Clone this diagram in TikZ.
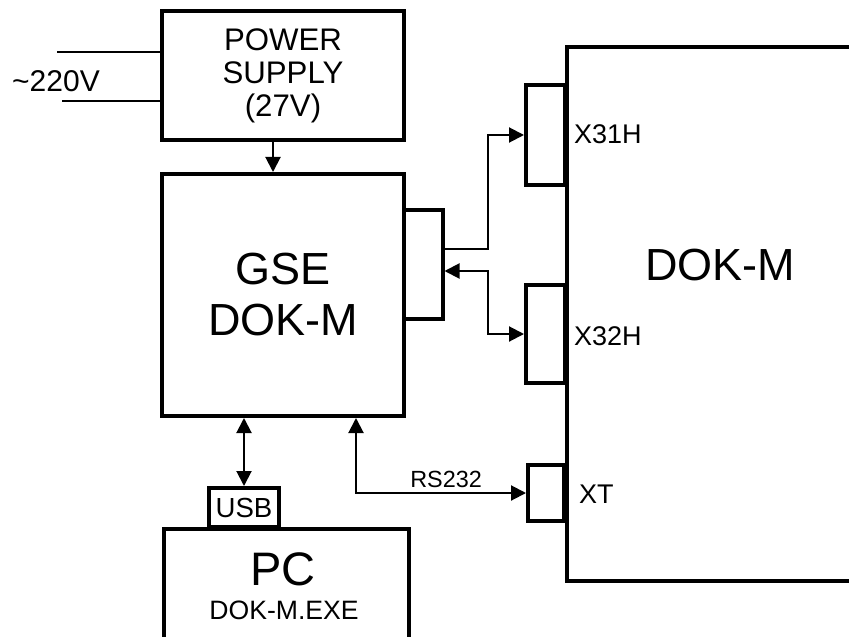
\documentclass[tikz,border=0pt]{standalone}
\usepackage{fontspec}
\setmainfont{Liberation Sans}
\usetikzlibrary{arrows.meta}
\tikzset{
  box/.style={draw, line width=2pt, inner sep=0pt},
  port/.style={box, minimum width=19.5pt},
  portname/.style={anchor=west, inner sep=0pt, font=\fontsize{13.5}{16}\selectfont},
}
\begin{document}
\begin{tikzpicture}[x=0.5pt, y=-0.5pt, line width=1pt, >={Triangle[length=7.5pt,width=7.5pt]}]
  \useasboundingbox (0,0) rectangle (849,636);
  \clip (0,0) rectangle (849,636);
  \node[box, minimum width=121pt, minimum height=64.5pt, align=center, font=\fontsize{15.6}{16.5}\selectfont] (psu) at (283,75.5) {POWER\\SUPPLY\\(27V)};
  \node[box, minimum width=121pt, minimum height=121pt, align=center, font=\fontsize{22.5}{25.5}\selectfont] (gse) at (283,295) {GSE\\DOK-M};
  \node[port, minimum height=54.5pt] (gseport) at (423,264.5) {};
  \node[box, anchor=north west, minimum width=122.5pt, minimum height=80pt] (pc) at (162,527) {};
  \node[font=\fontsize{23.5}{28}\selectfont] (pcname) at (283,569) {PC};
  \node[font=\fontsize{13.3}{16}\selectfont] (pcexe) at (284,610) {DOK-M.EXE};
  \node[box, minimum width=35pt, minimum height=19.5pt, font=\fontsize{13.8}{16}\selectfont] (usb) at (244,507.5) {USB};
  \node[box, anchor=north west, minimum width=300pt, minimum height=267pt] (dok) at (565,45) {};
  \node[font=\fontsize{22.5}{26}\selectfont] (dokname) at (720,265) {DOK-M};
  \node[port, minimum height=50pt] (x31) at (545.5,135) {};
  \node[port, minimum height=49pt] (x32) at (545.5,334) {};
  \node[port, minimum width=18pt, minimum height=28pt] (xt) at (546,493) {};
  \node[portname] (x31name) at (573,134) {X31H};
  \node[portname] (x32name) at (573,336) {X32H};
  \node[portname] (xtname) at (578,494) {XT};
  \node[font=\fontsize{15}{18}\selectfont] (mains) at (56,81) {\textasciitilde 220V};
  \coordinate (ac1) at (57,52);
  \coordinate (ac2) at (62,101);
  \coordinate (pwr) at (273,0);
  \coordinate (j1) at (488,249);
  \coordinate (j2) at (488,271);
  \coordinate (j3) at (356,493);
  \draw (ac1) -- (psu.west |- ac1);
  \draw (ac2) -- (psu.west |- ac2);
  \draw[->] (psu.south -| pwr) -- (gse.north -| pwr);
  \draw[->] (gseport.east |- j1) -- (j1) |- (x31.west);
  \draw[<->] (gseport.east |- j2) -- (j2) |- (x32.west);
  \draw[<->] (gse.south -| usb) -- (usb.north);
  \draw[<->] (gse.south -| j3) -- (j3) -- node[above, pos=0.53, inner sep=2pt, font=\fontsize{11.7}{14}\selectfont] (rs) {RS232} (xt.west);
\end{tikzpicture}
\end{document}
